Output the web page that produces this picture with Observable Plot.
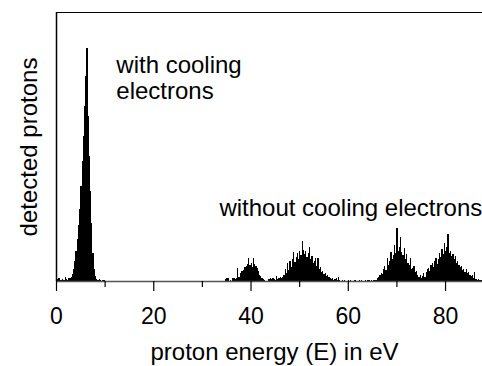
<!DOCTYPE html>
<html>
<head>
<meta charset="utf-8">
<script src="https://cdn.jsdelivr.net/npm/d3@7"></script>
<script src="https://cdn.jsdelivr.net/npm/@observablehq/plot@0.6"></script>
<style>
  html, body { margin: 0; padding: 0; background: #fff; }
  #chart svg { display: block; font-family: "Liberation Sans", Arial, Helvetica, sans-serif; }
</style>
</head>
<body>
<div id="chart"></div>
<script>
// bin width of the histogram (eV)
const binWidth = 0.25;

// with cooling electrons: counts per bin starting at 0 eV
const coolStart = 0;
const coolCounts = [0,2,3,1,1,2,1,4,2,1,3,3,4,7,12,20,30,42,56,72,95,120,145,175,205,233,165,125,90,58,28,12,5,2,1,2,1,0,1,1];

// without cooling electrons: peaks near 40 and 50 eV
const lowStart = 34.5;
const lowCounts = [0,2,3,3,0,1,0,3,3,2,3,13,4,8,10,10,11,14,15,17,23,16,18,14,23,17,15,13,10,6,5,3,2,1,0,0,2,2,3,2,3,2,1,5,2,3,4,3,4,6,
  12,8,18,11,20,14,22,29,19,24,28,22,30,26,40,31,27,30,24,28,34,22,25,18,20,23,15,23,12,14,9,10,7,8,5,6,4,3,2,3,1,2,3,1,4,1,0,1];

// sparse region between the peaks
const gapStart = 59;
const gapCounts = [0,1,0,0,1,0,1,0,0,1,1,0,0,1,0,1,0,0,1,0,1,1,0,1,0,1];

// without cooling electrons: peaks near 70 and 80 eV
const highStart = 65.5;
const highCounts = [1,1,3,4,6,8,7,12,15,11,23,16,20,29,22,26,36,28,53,30,34,44,29,26,33,22,27,18,16,23,12,13,15,9,10,6,4,6,3,5,8,4,9,12,13,10,16,18,14,20,
  23,17,22,28,24,32,27,38,30,34,47,28,30,25,27,22,25,18,20,16,14,15,11,12,9,12,8,9,6,5,6,3,9,2,1,2,1,1];

const majorTicks = [0, 20, 40, 60, 80];
const minorTicks = [10, 30, 50, 70];

function toBins(start, counts) {
  return counts.map((c, i) => ({e0: start + i * binWidth, e1: start + (i + 1) * binWidth, c})).filter(d => d.c > 0);
}
const bins = [
  ...toBins(coolStart, coolCounts),
  ...toBins(lowStart, lowCounts),
  ...toBins(gapStart, gapCounts),
  ...toBins(highStart, highCounts)
];

const yMax = 269;

const chart = Plot.plot({
  width: 482,
  height: 366,
  marginTop: 12,
  marginBottom: 85,
  marginLeft: 56,
  marginRight: 0,
  style: {fontFamily: '"Liberation Sans", Arial, Helvetica, sans-serif', color: "#000", background: "#fff"},
  x: {domain: [0, 87.6]},
  y: {domain: [0, yMax], axis: null},
  marks: [
    Plot.rectY(bins, {x1: "e0", x2: "e1", y: "c", fill: "#000", inset: 0, shapeRendering: "crispEdges"}),
    Plot.ruleY([0], {stroke: "#555", strokeWidth: 1.5}),
    Plot.ruleY([yMax], {stroke: "#000", strokeWidth: 1.2}),
    Plot.ruleX([0], {stroke: "#000", strokeWidth: 1.5}),
    Plot.axisX({ticks: majorTicks, tickSize: 10, tickPadding: 16, fontSize: 23, label: null, strokeWidth: 1.2}),
    Plot.axisX({ticks: minorTicks, tickSize: 6, tickFormat: () => "", label: null, strokeWidth: 1.2}),
    Plot.text(["proton energy (E) in eV"], {frameAnchor: "bottom", dx: 5, dy: 71, fontSize: 24, lineAnchor: "middle", fill: "#000"}),
    Plot.text(["detected protons"], {frameAnchor: "left", dx: -27, rotate: -90, fontSize: 24, textAnchor: "middle", lineAnchor: "middle", fill: "#000"}),
    Plot.text(["with cooling\nelectrons"], {x: 12.3, y: 204, textAnchor: "start", lineAnchor: "middle", lineHeight: 1.1, fontSize: 24, fill: "#000"}),
    Plot.text(["without cooling electrons"], {x: 33.5, y: 73, textAnchor: "start", lineAnchor: "middle", fontSize: 24, fill: "#000"})
  ]
});
document.getElementById("chart").appendChild(chart);
</script>
</body>
</html>
